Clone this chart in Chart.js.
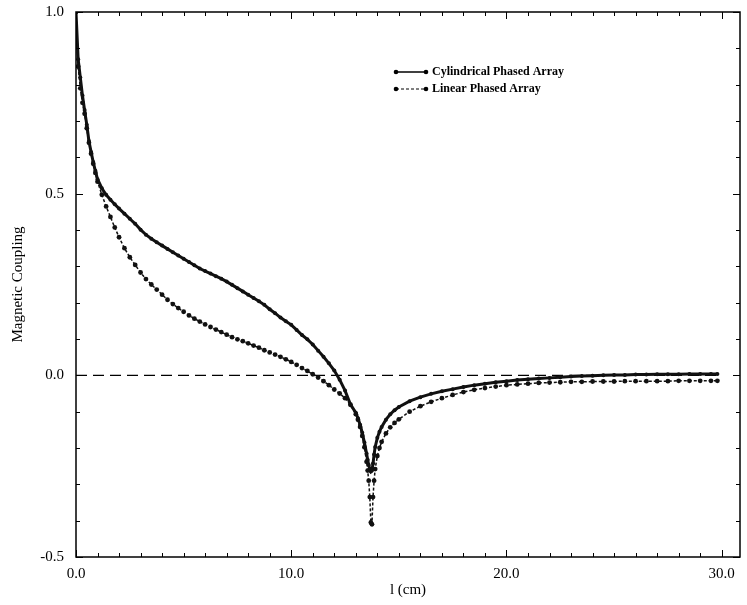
<!DOCTYPE html>
<html lang="en">
<head>
  <meta charset="UTF-8">
  <title>Magnetic Coupling</title>
  <script src="https://cdn.jsdelivr.net/npm/chart.js"></script>
  <style>
    body { margin: 0; background: #fff; }
    canvas { display: block; }
  </style>
</head>
<body>
  <canvas id="chartCanvas" width="747" height="605"></canvas>

  <script>
    // overlap l (cm)
    const lValues = [
      0, 0.1, 0.2, 0.3, 0.4, 0.5, 0.6, 0.7, 0.8, 0.9, 1.0,
      1.2, 1.4, 1.6, 1.8, 2.0,
      2.25, 2.5, 2.75, 3.0, 3.25, 3.5, 3.75, 4.0,
      4.25, 4.5, 4.75, 5.0, 5.25, 5.5, 5.75, 6.0,
      6.25, 6.5, 6.75, 7.0, 7.25, 7.5, 7.75, 8.0,
      8.25, 8.5, 8.75, 9.0, 9.25, 9.5, 9.75, 10.0,
      10.25, 10.5, 10.75, 11.0, 11.25, 11.5, 11.75, 12.0,
      12.25, 12.5, 12.75, 13.0,
      13.1, 13.2, 13.3, 13.4, 13.5, 13.55, 13.6, 13.65, 13.7, 13.75, 13.8, 13.85, 13.9, 14.0,
      14.1, 14.2, 14.4, 14.6, 14.8, 15.0,
      15.5, 16.0, 16.5, 17.0, 17.5, 18.0, 18.5, 19.0, 19.5, 20.0,
      20.5, 21.0, 21.5, 22.0, 22.5, 23.0, 23.5, 24.0, 24.5, 25.0,
      25.5, 26.0, 26.5, 27.0, 27.5, 28.0, 28.5, 29.0, 29.5, 29.8
    ];

    const cylValues = [
      1.0, 0.87, 0.82, 0.77, 0.73, 0.69, 0.645, 0.615, 0.587, 0.563, 0.54,
      0.515, 0.497, 0.483, 0.471, 0.459,
      0.445, 0.431, 0.417, 0.401, 0.387, 0.376, 0.366, 0.357,
      0.348, 0.339, 0.330, 0.321, 0.312, 0.303, 0.294, 0.287,
      0.280, 0.273, 0.266, 0.258, 0.249, 0.240, 0.231, 0.222,
      0.213, 0.204, 0.194, 0.182, 0.171, 0.159, 0.149, 0.139,
      0.125, 0.111, 0.099, 0.085, 0.068, 0.051, 0.033, 0.013,
      -0.012, -0.042, -0.080, -0.103,
      -0.118, -0.136, -0.158, -0.185, -0.215, -0.232, -0.247, -0.258, -0.265, -0.262, -0.243, -0.218, -0.197, -0.172,
      -0.155, -0.142, -0.122, -0.107, -0.096, -0.087,
      -0.071, -0.060, -0.051, -0.044, -0.038, -0.032, -0.027, -0.023, -0.019, -0.016,
      -0.013, -0.011, -0.009, -0.007, -0.005, -0.003, -0.002, -0.001, 0.000, 0.001,
      0.001, 0.002, 0.002, 0.003, 0.003, 0.003, 0.004, 0.004, 0.004, 0.004
    ];

    const linValues = [
      1.0, 0.85, 0.79, 0.75, 0.72, 0.68, 0.64, 0.61, 0.582, 0.557, 0.533,
      0.497, 0.465, 0.436, 0.407, 0.380,
      0.350, 0.325, 0.304, 0.283, 0.265, 0.250, 0.236, 0.222,
      0.208, 0.196, 0.185, 0.175, 0.165, 0.156, 0.148, 0.140,
      0.133, 0.126, 0.119, 0.112, 0.105, 0.099, 0.094, 0.088,
      0.082, 0.076, 0.069, 0.063, 0.057, 0.051, 0.044, 0.037,
      0.029, 0.020, 0.012, 0.003, -0.006, -0.016, -0.027, -0.039,
      -0.050, -0.063, -0.081, -0.107,
      -0.122, -0.142, -0.167, -0.198, -0.238, -0.262, -0.290, -0.335, -0.405, -0.410, -0.335, -0.290, -0.258, -0.222,
      -0.200, -0.183, -0.160, -0.143, -0.131, -0.121,
      -0.100, -0.085, -0.073, -0.063, -0.054, -0.046, -0.040, -0.035, -0.031, -0.027,
      -0.025, -0.023, -0.021, -0.020, -0.019, -0.018, -0.018, -0.017, -0.017, -0.017,
      -0.016, -0.016, -0.016, -0.016, -0.016, -0.015, -0.015, -0.015, -0.015, -0.015
    ];

    const zeroLineL = [0, 29.9];
    const zeroLineValues = [0, 0];

    const seriesNames = ['Cylindrical Phased Array', 'Linear Phased Array'];
    const xTickValues = [0, 10, 20, 30];
    const yTickValues = [-0.5, 0, 0.5, 1.0];

    const serif = "'Liberation Serif', 'DejaVu Serif', serif";

    function toPoints(xs, ys) {
      return xs.map((x, i) => ({ x: x, y: ys[i] }));
    }

    // frame, inward ticks and the legend box
    const framePlugin = {
      id: 'framePlugin',
      afterDraw(chart) {
        const ctx = chart.ctx;
        const a = chart.chartArea;
        const xs = chart.scales.x;
        const ys = chart.scales.y;
        ctx.save();
        ctx.strokeStyle = '#000';
        ctx.lineWidth = 1.5;
        ctx.strokeRect(a.left, a.top, a.right - a.left, a.bottom - a.top);

        ctx.lineWidth = 1;
        ctx.beginPath();
        for (let i = 0; i <= 30; i++) {
          const px = Math.round(xs.getPixelForValue(i)) + 0.5;
          const len = i % 10 === 0 ? 7 : 4;
          ctx.moveTo(px, a.bottom); ctx.lineTo(px, a.bottom - len);
          ctx.moveTo(px, a.top); ctx.lineTo(px, a.top + len);
        }
        for (let i = -5; i <= 10; i++) {
          const py = Math.round(ys.getPixelForValue(i / 10)) + 0.5;
          const len = i % 5 === 0 ? 7 : 4;
          ctx.moveTo(a.left, py); ctx.lineTo(a.left + len, py);
          ctx.moveTo(a.right, py); ctx.lineTo(a.right - len, py);
        }
        ctx.stroke();

        // legend
        ctx.font = 'bold 12px ' + serif;
        ctx.textBaseline = 'middle';
        ctx.fillStyle = '#000';
        chart.data.datasets.slice(0, 2).forEach((ds, i) => {
          const y = 72 + i * 17;
          ctx.beginPath();
          ctx.lineWidth = ds.borderWidth > 2 ? 1.5 : 1;
          ctx.setLineDash(ds.borderDash || []);
          ctx.moveTo(396, y); ctx.lineTo(426, y);
          ctx.stroke();
          ctx.setLineDash([]);
          [396, 426].forEach(px => {
            ctx.beginPath();
            ctx.arc(px, y, 2.3, 0, Math.PI * 2);
            ctx.fill();
          });
          ctx.fillText(ds.label, 432, y);
        });
        ctx.restore();
      }
    };

    const chartCtx = document.getElementById('chartCanvas').getContext('2d');

    const chart = new Chart(chartCtx, {
      type: 'scatter',
      data: {
        datasets: [
          {
            label: seriesNames[0],
            data: toPoints(lValues, cylValues),
            showLine: true,
            borderColor: '#111',
            backgroundColor: '#111',
            borderWidth: 3,
            pointRadius: 2,
            pointBorderWidth: 0,
            tension: 0
          },
          {
            label: seriesNames[1],
            data: toPoints(lValues, linValues),
            showLine: true,
            borderColor: '#111',
            backgroundColor: '#111',
            borderWidth: 1.5,
            borderDash: [3, 2],
            pointRadius: 2.4,
            pointBorderWidth: 0,
            tension: 0
          },
          {
            label: 'zero',
            data: toPoints(zeroLineL, zeroLineValues),
            showLine: true,
            borderColor: '#000',
            borderWidth: 1.2,
            borderDash: [11, 6],
            pointRadius: 0
          }
        ]
      },
      options: {
        responsive: false,
        animation: false,
        layout: { padding: { left: 0, top: 12, right: 7, bottom: 0 } },
        plugins: {
          legend: { display: false },
          tooltip: { enabled: false }
        },
        scales: {
          x: {
            type: 'linear',
            min: 0,
            max: 30.85,
            grid: { display: false, drawTicks: false },
            border: { display: false },
            afterBuildTicks: axis => { axis.ticks = xTickValues.map(v => ({ value: v })); },
            afterFit: axis => { axis.height = 48; axis.paddingLeft = 0; axis.paddingRight = 0; },
            ticks: {
              padding: 8,
              color: '#000',
              font: { family: serif, size: 15 },
              callback: v => v.toFixed(1)
            },
            title: {
              display: true,
              text: 'l (cm)',
              color: '#000',
              font: { family: serif, size: 15 },
              padding: { top: 0, bottom: 6 }
            }
          },
          y: {
            min: -0.5,
            max: 1.0,
            grid: { display: false, drawTicks: false },
            border: { display: false },
            afterBuildTicks: axis => { axis.ticks = yTickValues.map(v => ({ value: v })); },
            afterFit: axis => { axis.width = 76; axis.paddingTop = 0; axis.paddingBottom = 0; },
            ticks: {
              padding: 12,
              color: '#000',
              font: { family: serif, size: 15 },
              callback: v => v.toFixed(1)
            },
            title: {
              display: true,
              text: 'Magnetic Coupling',
              color: '#000',
              font: { family: serif, size: 15 },
              padding: { top: 9, bottom: 0 }
            }
          }
        }
      },
      plugins: [framePlugin]
    });
  </script>
</body>
</html>
